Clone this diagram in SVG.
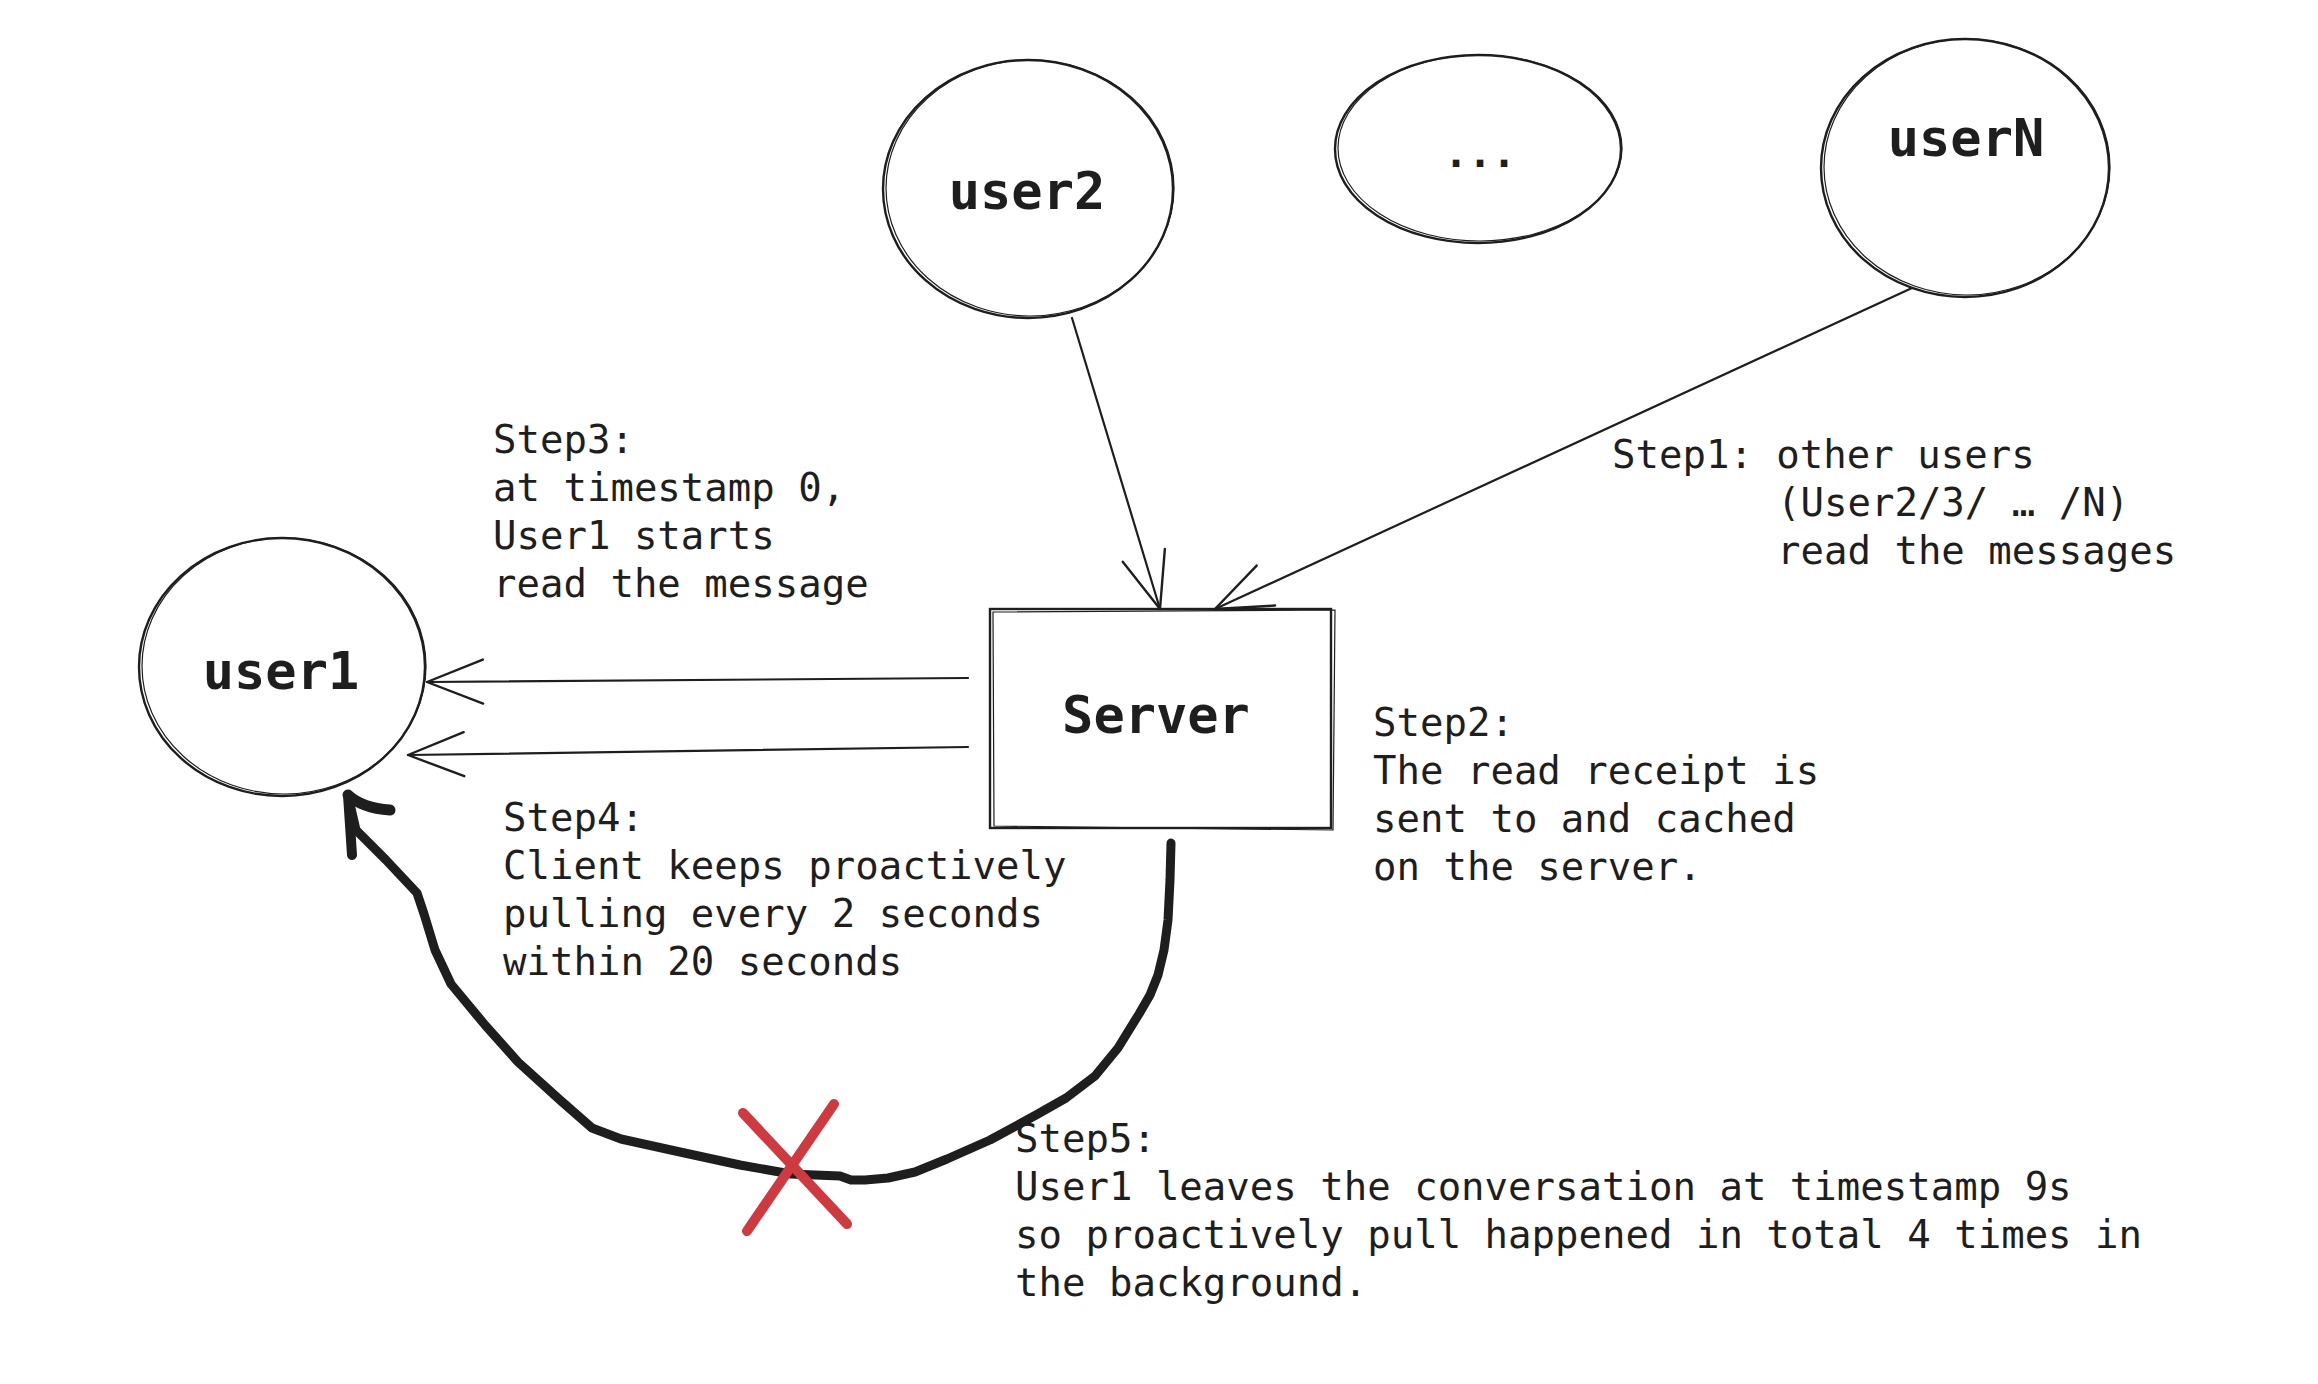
<svg xmlns="http://www.w3.org/2000/svg" width="2318" height="1384" viewBox="0 0 2318 1384">
<style>
.node{fill:none;stroke:#1e1e1e;stroke-width:2.4}
.node2{fill:none;stroke:#1e1e1e;stroke-width:1.2}
.lbl{font-family:"DejaVu Sans Mono","Liberation Mono",monospace;font-weight:bold;font-size:52px;fill:#1e1e1e;text-anchor:middle}
.note{font-family:"DejaVu Sans Mono","Liberation Mono",monospace;font-size:39px;fill:#1e1e1e}
.conn{fill:none;stroke:#1e1e1e;stroke-width:2.2;stroke-linecap:round}
.thick{fill:none;stroke:#1e1e1e;stroke-width:9;stroke-linecap:round;stroke-linejoin:round}
.cross{fill:none;stroke:#cf3a40;stroke-width:10;stroke-linecap:round}
</style>
<defs>
<marker id="open" markerUnits="userSpaceOnUse" orient="auto" markerWidth="140" markerHeight="140" refX="0" refY="0" overflow="visible">
<path d="M-56,-22 L0,0 L-56,22" fill="none" stroke="#1e1e1e" stroke-width="2.4" stroke-linecap="round" stroke-linejoin="round"/>
</marker>
</defs>
<rect width="2318" height="1384" fill="#ffffff"/>

<g id="user2">
<ellipse class="node" cx="1028" cy="189" rx="145" ry="129"/>
<ellipse class="node2" cx="1030" cy="188" rx="144" ry="128"/>
<text class="lbl" x="1027" y="209">user2</text>
</g>
<g id="ellipsis">
<ellipse class="node" cx="1478" cy="149" rx="143" ry="94"/>
<ellipse class="node2" cx="1480" cy="148" rx="142" ry="93"/>
<text class="lbl" x="1480" y="167" style="font-size:40px">...</text>
</g>
<g id="userN">
<ellipse class="node" cx="1965" cy="168" rx="144" ry="129"/>
<ellipse class="node2" cx="1967" cy="167" rx="143" ry="128"/>
<text class="lbl" x="1966" y="156">userN</text>
</g>
<g id="user1">
<ellipse class="node" cx="282" cy="667" rx="143" ry="129"/>
<ellipse class="node2" cx="284" cy="666" rx="142" ry="128"/>
<text class="lbl" x="281" y="689">user1</text>
</g>
<g id="server">
<rect class="node" x="990" y="609" width="341" height="219"/>
<path class="node2" d="M993,612 L1335,610 L1333,830 L994,826 Z"/>
<text class="lbl" x="1156" y="733">Server</text>
</g>

<g id="connectors">
<path class="conn" d="M1072,318 L1160,609" marker-end="url(#open)"/>
<path class="conn" d="M1912,288 L1215,609" marker-end="url(#open)"/>
<path class="conn" d="M968,678 L427,682" marker-end="url(#open)"/>
<path class="conn" d="M968,747 L408,755" marker-end="url(#open)"/>
<path class="thick" d="M1171,843 L1170,880 L1168,920 L1164,950 L1158,975 L1150,995 L1139,1014 L1118,1048 L1095,1076 L1066,1098 L1036,1115 L990,1140 L947,1159 L915,1172 L888,1178 L865,1180 L851,1180 L840,1176 L815,1175 L791,1174 L740,1165 L680,1152 L621,1139 L592,1128 L560,1100 L518,1062 L485,1025 L451,984 L435,950 L424,914 L417,893 L386,860 L356,830 L348,795"/>
<path class="thick" d="M348,795 L352,855" style="stroke-width:10"/>
<path class="thick" d="M348,795 Q362,808 390,810" style="stroke-width:11"/>
</g>

<g id="cross">
<path class="cross" d="M743,1113 L847,1224"/>
<path class="cross" d="M834,1104 L747,1231"/>
</g>

<g id="notes">
<text class="note" x="493" y="453">Step3:</text>
<text class="note" x="493" y="501">at timestamp 0,</text>
<text class="note" x="493" y="549">User1 starts</text>
<text class="note" x="493" y="597">read the message</text>

<text class="note" x="1612" y="468">Step1: other users</text>
<text class="note" x="1777" y="516">(User2/3/ … /N)</text>
<text class="note" x="1777" y="564">read the messages</text>

<text class="note" x="1373" y="736">Step2:</text>
<text class="note" x="1373" y="784">The read receipt is</text>
<text class="note" x="1373" y="832">sent to and cached</text>
<text class="note" x="1373" y="880">on the server.</text>

<text class="note" x="503" y="831">Step4:</text>
<text class="note" x="503" y="879">Client keeps proactively</text>
<text class="note" x="503" y="927">pulling every 2 seconds</text>
<text class="note" x="503" y="975">within 20 seconds</text>

<text class="note" x="1015" y="1152">Step5:</text>
<text class="note" x="1015" y="1200">User1 leaves the conversation at timestamp 9s</text>
<text class="note" x="1015" y="1248">so proactively pull happened in total 4 times in</text>
<text class="note" x="1015" y="1296">the background.</text>
</g>
</svg>
